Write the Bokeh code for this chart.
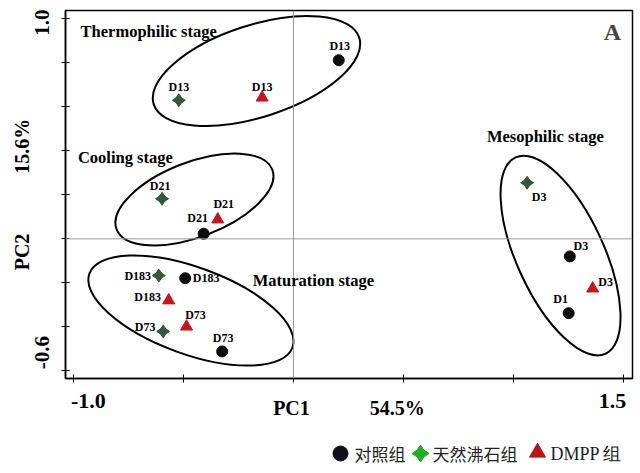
from bokeh.plotting import figure
from bokeh.layouts import column
from bokeh.models import (ColumnDataSource, FixedTicker, Span, Label, Range1d)
from bokeh.embed import file_html
from bokeh.resources import INLINE
from bokeh.core.properties import value

# ---------------- data (PC1 / PC2 scores) ----------------
ck_labels = ["D13", "D21", "D183", "D73", "D3", "D1"]
ck_x = [0.206, -0.408, -0.492, -0.324, 1.256, 1.251]
ck_y = [0.812, 0.023, -0.179, -0.512, -0.080, -0.338]

zeo_labels = ["D13", "D21", "D183", "D73", "D3"]
zeo_x = [-0.521, -0.597, -0.612, -0.592, 1.062]
zeo_y = [0.630, 0.182, -0.167, -0.421, 0.255]

dmpp_labels = ["D13", "D21", "D183", "D73", "D3"]
dmpp_x = [-0.142, -0.344, -0.567, -0.486, 1.360]
dmpp_y = [0.642, 0.088, -0.280, -0.399, -0.226]

# confidence ellipses for the composting stages
stage_names = ["Thermophilic stage", "Cooling stage", "Maturation stage", "Mesophilic stage"]
ell_x = [-0.168, -0.450, -0.466, 1.214]
ell_y = [0.763, 0.179, -0.326, -0.076]
ell_w = [0.982, 0.758, 0.982, 0.982]
ell_h = [0.418, 0.340, 0.395, 0.397]
ell_angle = [18, 21, -20, 114.6]
stage_label_x = [-0.658, -0.764, 0.091, 1.145]
stage_label_y = [0.943, 0.370, -0.190, 0.465]

legend_names = ["对照组", "天然沸石组", "DMPP 组"]
x_tick_labels = ["-1.0", "1.5"]
x_label_pos = [-0.932, 1.45]
x_ticks = [-1.0, -0.5, 0.0, 0.5, 1.0, 1.5]
y_tick_labels = ["1.0", "-0.6"]
y_label_pos = [0.983, -0.517]
y_ticks = [-0.6, -0.4, -0.2, 0.0, 0.2, 0.4, 0.6, 0.8, 1.0]

# label offsets in screen px (layout only)
ck_off_x = [1, -6, 21, 1, 11, -8]
ck_off_y = [-14, -16, 0, -13, -10, -14]
zeo_off_x = [0, -2, -21, -18, 12]
zeo_off_y = [-13, -13, 0, -4, 14]
dmpp_off_x = [0, 6, -21, 9, 13]
dmpp_off_y = [-11, -15, -3, -12, -7]

# legend strip layout (page pixels; strip frame spans x 65..632)
leg_marker_x = [340, 420, 537]
leg_text_x = [354, 432, 550]
leg_center_y = 19

SERIF = "Liberation Serif"

p = figure(frame_width=567, frame_height=368,
           x_range=Range1d(-1.036, 1.541), y_range=Range1d(-0.635, 1.038),
           output_backend="svg", toolbar_location=None,
           min_border_left=65, min_border_right=4, min_border_top=10,
           min_border_bottom=56, background_fill_color="white",
           border_fill_color="white")
p.grid.visible = False
p.outline_line_color = "black"
p.outline_line_width = 1.5

p.add_layout(Span(location=0, dimension="height", line_color="#9a9a9a", line_width=1))
p.add_layout(Span(location=0, dimension="width", line_color="#9a9a9a", line_width=1))

# ellipses
esrc = ColumnDataSource(dict(x=ell_x, y=ell_y, w=ell_w, h=ell_h, a=ell_angle))
p.ellipse(x="x", y="y", width="w", height="h", angle="a", angle_units="deg",
          source=esrc, fill_color=None, line_color="black", line_width=2)

for name, lx, ly in zip(stage_names, stage_label_x, stage_label_y):
    p.add_layout(Label(x=lx, y=ly, text=name, text_font=SERIF, text_font_style="bold",
                       text_font_size="16.5px", text_align="center",
                       text_baseline="middle", text_color="black"))

p.add_layout(Label(x=1.45, y=0.938, text="A", text_font=SERIF, text_font_style="bold",
                   text_font_size="24px", text_align="center", text_baseline="middle"))

# points
ck_src = ColumnDataSource(dict(x=ck_x, y=ck_y, t=ck_labels, xo=ck_off_x, yo=ck_off_y))
zeo_src = ColumnDataSource(dict(x=zeo_x, y=zeo_y, t=zeo_labels, xo=zeo_off_x, yo=zeo_off_y))
dm_src = ColumnDataSource(dict(x=dmpp_x, y=dmpp_y, t=dmpp_labels, xo=dmpp_off_x, yo=dmpp_off_y))

p.scatter(x="x", y="y", source=ck_src, marker="circle", size=11,
          fill_color="#0d0d0d", line_color="#0d0d0d")
for ang in (0, 90):
    p.scatter(x="x", y="y", source=zeo_src, marker="diamond", size=13, angle=ang,
              angle_units="deg", fill_color="#35573a", line_color="#35573a")
p.scatter(x="x", y="y", source=dm_src, marker="triangle", size=12,
          fill_color="#c3161f", line_color="#c3161f")

for src in (ck_src, zeo_src, dm_src):
    p.text(x="x", y="y", text="t", x_offset="xo", y_offset="yo", source=src,
           text_font=value(SERIF), text_font_style="bold", text_font_size="12px",
           text_align="center", text_baseline="middle", text_color="black")

# axes
p.xaxis.ticker = FixedTicker(ticks=x_label_pos, minor_ticks=x_ticks)
p.xaxis.major_label_overrides = dict(zip(x_label_pos, x_tick_labels))
p.yaxis.ticker = FixedTicker(ticks=y_label_pos, minor_ticks=y_ticks)
p.yaxis.major_label_overrides = dict(zip(y_label_pos, y_tick_labels))
p.yaxis.major_label_orientation = "vertical"
nb = "\u00a0"
p.xaxis.axis_label = "PC1" + nb * 12 + "54.5%"
p.yaxis.axis_label = "PC2" + nb * 12 + "15.6%"
for ax in (p.xaxis, p.yaxis):
    ax.axis_line_color = "black"
    ax.axis_line_width = 1.5
    ax.major_tick_in = 0
    ax.major_tick_out = 0
    ax.minor_tick_in = 4
    ax.minor_tick_out = 4
    ax.minor_tick_line_color = "black"
    ax.minor_tick_line_width = 1
    ax.major_label_text_font = SERIF
    ax.major_label_text_font_style = "bold"
    ax.major_label_text_color = "black"
    ax.axis_label_text_font = SERIF
    ax.axis_label_text_font_style = "bold"
    ax.axis_label_text_color = "black"
p.xaxis.major_label_text_font_size = "22px"
p.xaxis.major_label_standoff = 11
p.xaxis.axis_label_text_font_size = "20px"
p.xaxis.axis_label_standoff = -14
p.yaxis.major_label_text_font_size = "21px"
p.yaxis.major_label_standoff = 12
p.yaxis.axis_label_text_font_size = "20px"
p.yaxis.axis_label_standoff = 0

# ---------------- legend strip below the chart ----------------
lg = figure(width=636, height=38, x_range=Range1d(65, 632), y_range=Range1d(0, 38),
            output_backend="svg", toolbar_location=None,
            x_axis_location=None, y_axis_location=None,
            min_border_left=65, min_border_right=4, min_border_top=0,
            min_border_bottom=0, background_fill_color="white",
            border_fill_color="white")
lg.grid.visible = False
lg.outline_line_color = None
lg.scatter(x=[leg_marker_x[0]], y=[leg_center_y], marker="circle", size=15,
           fill_color="#10101c", line_color="#10101c")
for ang in (0, 90):
    lg.scatter(x=[leg_marker_x[1]], y=[leg_center_y], marker="diamond", size=17,
               angle=ang, angle_units="deg", fill_color="#22b022", line_color="#22b022")
lg.scatter(x=[leg_marker_x[2]], y=[leg_center_y + 1], marker="triangle", size=16,
           fill_color="#b8141c", line_color="#b8141c")
lsrc = ColumnDataSource(dict(x=leg_text_x[:2], y=[leg_center_y] * 2, t=legend_names[:2]))
lg.text(x="x", y="y", text="t", source=lsrc, text_font=value("Noto Sans CJK SC"),
        text_font_size="17px", text_align="left", text_baseline="middle",
        text_color="#222222")
lsrc2 = ColumnDataSource(dict(x=leg_text_x[2:], y=[leg_center_y], t=legend_names[2:]))
lg.text(x="x", y="y", text="t", source=lsrc2, text_font=value(SERIF),
        text_font_size="18px", text_align="left", text_baseline="middle",
        text_color="#222222")

open("out.html", "w").write(file_html(column(p, lg), INLINE))
